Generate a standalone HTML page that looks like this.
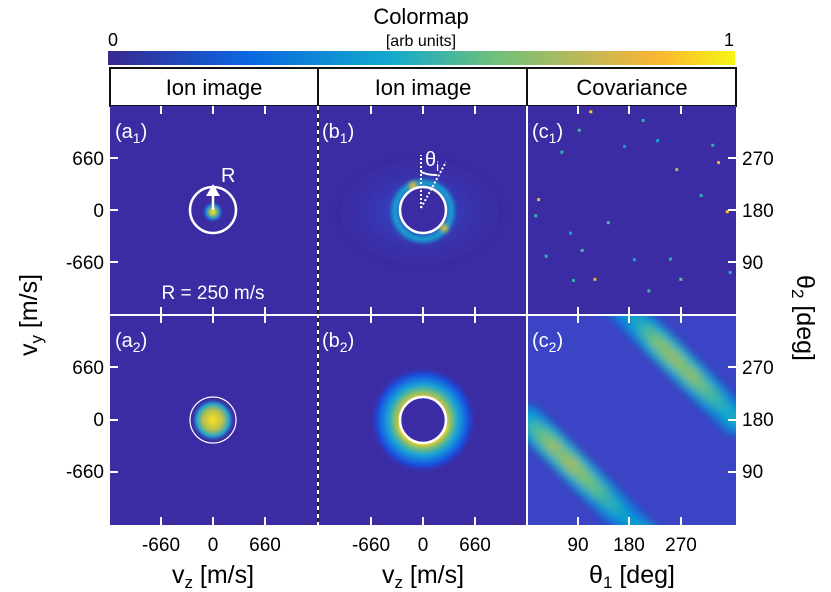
<!DOCTYPE html>
<html><head><meta charset="utf-8">
<style>
html,body{margin:0;padding:0;background:#fff;width:831px;height:592px;overflow:hidden}
svg{display:block;position:absolute;left:0;top:0;font-family:"Liberation Sans",sans-serif}
</style></head>
<body>
<svg id="fig" width="831" height="592" viewBox="0 0 831 592">
<defs>
<linearGradient id="parula" x1="0" x2="1" y1="0" y2="0">
<stop offset="0" stop-color="#38288f"/><stop offset="0.22" stop-color="#0b66e0"/>
<stop offset="0.45" stop-color="#12a9cc"/><stop offset="0.62" stop-color="#70c07a"/>
<stop offset="0.78" stop-color="#c9b752"/><stop offset="0.88" stop-color="#fbb630"/>
<stop offset="1" stop-color="#f5f514"/></linearGradient>
<radialGradient id="spotA1"><stop offset="0" stop-color="#f8e520"/><stop offset="0.3" stop-color="#9cc060"/><stop offset="0.65" stop-color="#1a7ee0"/><stop offset="1" stop-color="#3b2ca3" stop-opacity="0"/></radialGradient>
<radialGradient id="spotA2"><stop offset="0" stop-color="#f6e020"/><stop offset="0.45" stop-color="#b8c050"/><stop offset="0.75" stop-color="#20a0d0"/><stop offset="1" stop-color="#3b2ca3" stop-opacity="0"/></radialGradient>
<radialGradient id="ringB2" cx="0.5" cy="0.5" r="0.5">
<stop offset="0" stop-color="#3b2ca3"/><stop offset="0.42" stop-color="#f0c030"/><stop offset="0.52" stop-color="#80c070"/><stop offset="0.66" stop-color="#18a0d8"/><stop offset="0.84" stop-color="#1850e0"/><stop offset="1" stop-color="#3b2ca3" stop-opacity="0"/></radialGradient>
<radialGradient id="cloudB1"><stop offset="0" stop-color="#2a58e0" stop-opacity="0.7"/><stop offset="0.5" stop-color="#3048d0" stop-opacity="0.4"/><stop offset="1" stop-color="#3b2ca3" stop-opacity="0"/></radialGradient>
<filter id="blur2" x="-50%" y="-50%" width="200%" height="200%"><feGaussianBlur stdDeviation="2"/></filter>
<filter id="blur4" x="-20%" y="-20%" width="140%" height="140%"><feGaussianBlur stdDeviation="4"/></filter>
<filter id="blur6" x="-50%" y="-50%" width="200%" height="200%"><feGaussianBlur stdDeviation="6"/></filter>
<clipPath id="clipC2"><rect x="527" y="315" width="209" height="210"/></clipPath>
<clipPath id="clipC1"><rect x="527" y="106" width="209" height="209"/></clipPath>
</defs>

<text x="421" y="24" font-size="22" text-anchor="middle">Colormap</text>
<text x="421" y="46" font-size="16" text-anchor="middle">[arb units]</text>
<text x="113" y="46" font-size="18" text-anchor="middle">0</text>
<text x="729" y="46" font-size="18" text-anchor="middle">1</text>
<rect x="108" y="51" width="627" height="14" fill="url(#parula)"/>

<g font-size="22" text-anchor="middle">
<rect x="110" y="68" width="626" height="38" fill="#fff" stroke="#111" stroke-width="2"/>
<line x1="318" y1="68" x2="318" y2="106" stroke="#111" stroke-width="2"/>
<line x1="527" y1="68" x2="527" y2="106" stroke="#111" stroke-width="2"/>
<text x="214" y="95">Ion image</text>
<text x="423" y="95">Ion image</text>
<text x="632" y="95">Covariance</text>
</g>

<rect x="110" y="106" width="626" height="419" fill="#3b2ca3"/>
<rect x="527" y="315" width="209" height="210" fill="#3a44c4"/>

<g>
<circle cx="213" cy="212" r="11" fill="url(#spotA1)"/>
<circle cx="213" cy="210" r="23" fill="none" stroke="#fff" stroke-width="2.5"/>
<line x1="213" y1="210" x2="213" y2="195" stroke="#fff" stroke-width="2.5"/>
<polygon points="206,196 220,196 213,184" fill="#fff"/>
<text x="221" y="182" font-size="20" fill="#fff">R</text>
<text x="213" y="299" font-size="19" fill="#fff" text-anchor="middle">R = 250 m/s</text>
<text x="115" y="138" font-size="20" fill="#fff">(a<tspan font-size="14" dy="5">1</tspan><tspan dy="-5">)</tspan></text>
</g>
<g>
<circle cx="213" cy="420" r="22" fill="url(#spotA2)"/>
<circle cx="213" cy="420" r="23" fill="none" stroke="#fff" stroke-width="1.2"/>
<text x="115" y="347" font-size="20" fill="#fff">(a<tspan font-size="14" dy="5">2</tspan><tspan dy="-5">)</tspan></text>
</g>
<g>
<ellipse cx="420" cy="212" rx="85" ry="55" fill="url(#cloudB1)" filter="url(#blur6)"/>
<circle cx="423" cy="211" r="28" fill="none" stroke="#18a0d0" stroke-width="7" filter="url(#blur2)"/>
<circle cx="413" cy="186" r="4" fill="#f0c030" filter="url(#blur2)"/>
<circle cx="444" cy="228" r="4" fill="#e0c040" filter="url(#blur2)"/>
<circle cx="423" cy="210" r="23" fill="#3b2ca3" stroke="#fff" stroke-width="2.5"/>
<line x1="421" y1="208" x2="421" y2="155" stroke="#fff" stroke-width="2" stroke-dasharray="2,2"/>
<line x1="421" y1="208" x2="446" y2="162" stroke="#fff" stroke-width="2" stroke-dasharray="2,2"/>
<path d="M421,172 A36,36 0 0,0 437,175" fill="none" stroke="#fff" stroke-width="2"/>
<text x="425" y="166" font-size="20" fill="#fff">θ<tspan font-size="13" dy="5">i</tspan></text>
<text x="322" y="138" font-size="20" fill="#fff">(b<tspan font-size="14" dy="5">1</tspan><tspan dy="-5">)</tspan></text>
</g>
<g>
<circle cx="423" cy="420" r="54" fill="url(#ringB2)"/>
<path d="M400,425 A24,24 0 0,0 446,425" fill="none" stroke="#f8d828" stroke-width="5" filter="url(#blur2)"/>
<circle cx="423" cy="420" r="23" fill="#3b2ca3" stroke="#fff" stroke-width="2.5"/>
<text x="322" y="347" font-size="20" fill="#fff">(b<tspan font-size="14" dy="5">2</tspan><tspan dy="-5">)</tspan></text>
</g>
<g id="c1cells" clip-path="url(#clipC1)"></g>
<g clip-path="url(#clipC2)">
<g id="c2cells" filter="url(#blur4)"></g>
</g>
<text x="532" y="138" font-size="20" fill="#fff">(c<tspan font-size="14" dy="5">1</tspan><tspan dy="-5">)</tspan></text>
<text x="532" y="347" font-size="20" fill="#fff">(c<tspan font-size="14" dy="5">2</tspan><tspan dy="-5">)</tspan></text>

<line x1="110" y1="315" x2="736" y2="315" stroke="#fff" stroke-width="2"/>
<line x1="318" y1="106" x2="318" y2="525" stroke="#222" stroke-width="2"/>
<line x1="318" y1="106" x2="318" y2="525" stroke="#fff" stroke-width="2" stroke-dasharray="4,4"/>
<line x1="527" y1="106" x2="527" y2="525" stroke="#fff" stroke-width="2"/>
<g id="ticks" stroke="#fff" stroke-width="2"></g>

<g font-size="19" text-anchor="end">
<text x="104" y="165">660</text><text x="104" y="217">0</text><text x="104" y="269">-660</text>
<text x="104" y="374">660</text><text x="104" y="426">0</text><text x="104" y="478">-660</text>
</g>
<g font-size="19">
<text x="742" y="165">270</text><text x="742" y="217">180</text><text x="742" y="269">90</text>
<text x="742" y="374">270</text><text x="742" y="426">180</text><text x="742" y="478">90</text>
</g>
<g font-size="19" text-anchor="middle">
<text x="161" y="551">-660</text><text x="213" y="551">0</text><text x="265" y="551">660</text>
<text x="371" y="551">-660</text><text x="423" y="551">0</text><text x="475" y="551">660</text>
<text x="578" y="551">90</text><text x="629" y="551">180</text><text x="681" y="551">270</text>
</g>
<text x="213" y="583" font-size="25" text-anchor="middle">v<tspan font-size="17" dy="5">z</tspan><tspan dy="-5"> [m/s]</tspan></text>
<text x="423" y="583" font-size="25" text-anchor="middle">v<tspan font-size="17" dy="5">z</tspan><tspan dy="-5"> [m/s]</tspan></text>
<text x="632" y="583" font-size="25" text-anchor="middle">θ<tspan font-size="17" dy="5">1</tspan><tspan dy="-5"> [deg]</tspan></text>
<text transform="translate(37,315) rotate(-90)" font-size="25" text-anchor="middle">v<tspan font-size="17" dy="5">y</tspan><tspan dy="-5"> [m/s]</tspan></text>
<text transform="translate(797,318) rotate(90)" font-size="25" text-anchor="middle">θ<tspan font-size="17" dy="5">2</tspan><tspan dy="-5"> [deg]</tspan></text>
</svg>
<script>
const c1Theta1=[110,200,90,168,225,60,258,330,20,15,75,140,300,320,345,33,185,247,95,117,80,210,350,265];
const c1Theta2=[350,335,318,290,300,280,250,262,198,170,140,158,205,292,177,100,94,95,110,60,58,40,72,60];
const c1Value=[0.9,0.5,0.55,0.4,0.45,0.5,0.7,0.85,0.85,0.5,0.45,0.55,0.5,0.5,0.9,0.5,0.45,0.5,0.55,0.85,0.5,0.55,0.5,0.6];
const c2BandTheta1=[0,15,30,45,60,75,90,105,120,135,150,165,180,195,210,225,240,255,270,285,300,315,330,345,360];
const c2BandValue=[0.45,0.55,0.62,0.68,0.65,0.7,0.66,0.62,0.58,0.52,0.48,0.42,0.4,0.48,0.56,0.64,0.66,0.68,0.64,0.66,0.6,0.55,0.5,0.46,0.42];

const pStops=[[0,[56,40,143]],[0.22,[11,102,224]],[0.45,[18,169,204]],[0.62,[112,192,122]],[0.78,[201,183,82]],[0.88,[251,182,48]],[1,[245,245,20]]];
function parula(v){v=Math.max(0,Math.min(1,v));for(let i=1;i<pStops.length;i++){if(v<=pStops[i][0]){const a=pStops[i-1],b=pStops[i],t=(v-a[0])/(b[0]-a[0]);return 'rgb('+a[1].map((c,k)=>Math.round(c+(b[1][k]-c)*t)).join(',')+')';}}return 'rgb(245,245,20)';}
const NS='http://www.w3.org/2000/svg';
const xTheta=t=>527+t*209/360;
const yTheta1=t=>210-(t-180)*52/90;
const yTheta2=t=>420-(t-180)*52/90;

const g1=document.getElementById('c1cells');
for(let i=0;i<c1Theta1.length;i++){
  const r=document.createElementNS(NS,'rect');
  r.setAttribute('x',xTheta(c1Theta1[i])-1.5);r.setAttribute('y',yTheta1(c1Theta2[i])-1.5);
  r.setAttribute('width',3);r.setAttribute('height',3);r.setAttribute('fill',parula(c1Value[i]));
  
  
  g1.appendChild(r);
}
const g2=document.getElementById('c2cells');
function band(off,name){
  for(let i=0;i<c2BandTheta1.length-1;i++){
    const t0=c2BandTheta1[i],t1=c2BandTheta1[i+1];
    const wide=document.createElementNS(NS,'line');
    wide.setAttribute('x1',xTheta(t0));wide.setAttribute('y1',yTheta2(off-t0));
    wide.setAttribute('x2',xTheta(t1));wide.setAttribute('y2',yTheta2(off-t1));
    wide.setAttribute('stroke',parula(c2BandValue[i]*0.7));wide.setAttribute('stroke-width',30);
    wide.setAttribute('stroke-linecap','round');
    
    
    g2.appendChild(wide);
  }
  for(let i=0;i<c2BandTheta1.length-1;i++){
    const t0=c2BandTheta1[i],t1=c2BandTheta1[i+1];
    const l=document.createElementNS(NS,'line');
    l.setAttribute('x1',xTheta(t0));l.setAttribute('y1',yTheta2(off-t0));
    l.setAttribute('x2',xTheta(t1));l.setAttribute('y2',yTheta2(off-t1));
    l.setAttribute('stroke',parula(c2BandValue[i]));l.setAttribute('stroke-width',14);
    l.setAttribute('stroke-linecap','round');
    
    
    g2.appendChild(l);
  }
}
band(540,'c2-band-upper');band(180,'c2-band-lower');

const tk=document.getElementById('ticks');
function tick(x1,y1,x2,y2){const l=document.createElementNS(NS,'line');l.setAttribute('x1',x1);l.setAttribute('y1',y1);l.setAttribute('x2',x2);l.setAttribute('y2',y2);tk.appendChild(l);}
[[161,213,265],[371,423,475],[578,629,681]].forEach(xs=>xs.forEach(x=>{tick(x,106,x,114);tick(x,307,x,323);tick(x,517,x,525);}));
[158,210,262,367,420,472].forEach(y=>{tick(110,y,118,y);tick(728,y,736,y);});
</script>
</body></html>
